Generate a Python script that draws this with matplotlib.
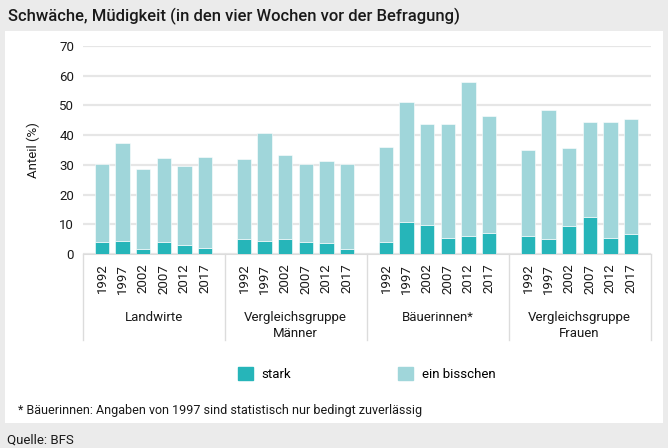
import numpy as np
import matplotlib
matplotlib.use("Agg")
import matplotlib.pyplot as plt
from matplotlib.patches import Rectangle, Patch

plt.rcParams['font.family'] = ['Roboto', 'DejaVu Sans']

groups = ['Landwirte', 'Vergleichsgruppe\nMänner', 'Bäuerinnen*', 'Vergleichsgruppe\nFrauen']
years = ['1992', '1997', '2002', '2007', '2012', '2017']

# stark (bottom) and total height of the stack, per group
stark = [
    [3.9, 4.5, 1.6, 3.9, 2.9, 2.0],
    [4.9, 4.5, 4.9, 3.9, 3.6, 1.6],
    [3.9, 10.7, 9.8, 5.5, 5.9, 7.0],
    [5.9, 4.9, 9.5, 12.5, 5.3, 6.8],
]
total = [
    [30.4, 37.5, 28.5, 32.3, 29.7, 32.8],
    [31.9, 40.7, 33.2, 30.4, 31.3, 30.4],
    [36.0, 51.2, 43.6, 43.6, 57.8, 46.3],
    [35.1, 48.4, 35.6, 44.5, 44.5, 45.4],
]

C_STARK = '#26b5b9'
C_BISSCHEN = '#a0d6da'
TXT = '#1a1a1a'
W, H = 668, 448

fig = plt.figure(figsize=(W / 100, H / 100), dpi=100, facecolor='#ebebeb')
fig.patches.append(Rectangle((5 / W, 1 - 423 / H), 658 / W, 392 / H,
                             transform=fig.transFigure, facecolor='white',
                             edgecolor='none', zorder=-5))
fig.text(8 / W, 1 - 16 / H, 'Schwäche, Müdigkeit (in den vier Wochen vor der Befragung)',
         fontsize=12, fontweight='medium', va='center', ha='left', color=TXT)

ax = fig.add_axes([82.5 / W, 1 - 254 / H, 568 / W, 208 / H])
ax.set_facecolor('none')

GW = 6.9  # group width in bar slots
xs, labels = [], []
for g in range(4):
    pos = g * GW + GW / 2 + np.arange(6) - 2.5
    s = np.array(stark[g])
    b = np.array(total[g]) - s
    ax.bar(pos, s, width=0.7, color=C_STARK, edgecolor='white', linewidth=0.4, zorder=3)
    ax.bar(pos, b, bottom=s, width=0.7, color=C_BISSCHEN, edgecolor='white', linewidth=0.4, zorder=3)
    xs.extend(pos)
    labels.extend(years)
    ax.text(g * GW + GW / 2, -0.275, groups[g], transform=ax.get_xaxis_transform(),
            ha='center', va='top', fontsize=9.5, linespacing=1.25, color=TXT)

for g in range(5):
    ax.plot([g * GW, g * GW], [0, -0.415], transform=ax.get_xaxis_transform(),
            color='#dcdcdc', lw=1, clip_on=False)

ax.set_xlim(0, 4 * GW)
ax.set_ylim(0, 70)
ax.set_yticks(range(0, 71, 10))
ax.set_xticks(xs, labels, rotation=90)
ax.tick_params(axis='x', length=0, pad=7, labelsize=9.5, colors=TXT)
ax.tick_params(axis='y', length=0, pad=6, labelsize=9.5, colors=TXT)
ax.grid(axis='y', color='#e6e6e6', lw=1.6, zorder=0)
for sp in ['top', 'right', 'left']:
    ax.spines[sp].set_visible(False)
ax.spines['bottom'].set_color('#dcdcdc')
ax.set_ylabel('Anteil (%)', fontsize=9.5, labelpad=14, color=TXT)

handles = [Patch(color=C_STARK, label='stark'), Patch(color=C_BISSCHEN, label='ein bisschen')]
fig.legend(handles=handles, loc='center left', bbox_to_anchor=(238 / W, 1 - 374 / H),
           ncol=2, frameon=False, fontsize=9.5, handlelength=1.1, handleheight=1.1,
           handletextpad=0.7, columnspacing=8.1, borderpad=0, borderaxespad=0)

fig.text(18 / W, 1 - 410 / H, '* Bäuerinnen: Angaben von 1997 sind statistisch nur bedingt zuverlässig',
         fontsize=9, va='center', ha='left', color=TXT)
fig.text(7 / W, 1 - 440 / H, 'Quelle: BFS', fontsize=9.5, va='center', ha='left', color=TXT)

fig.savefig('out.png', dpi=100, facecolor=fig.get_facecolor())
